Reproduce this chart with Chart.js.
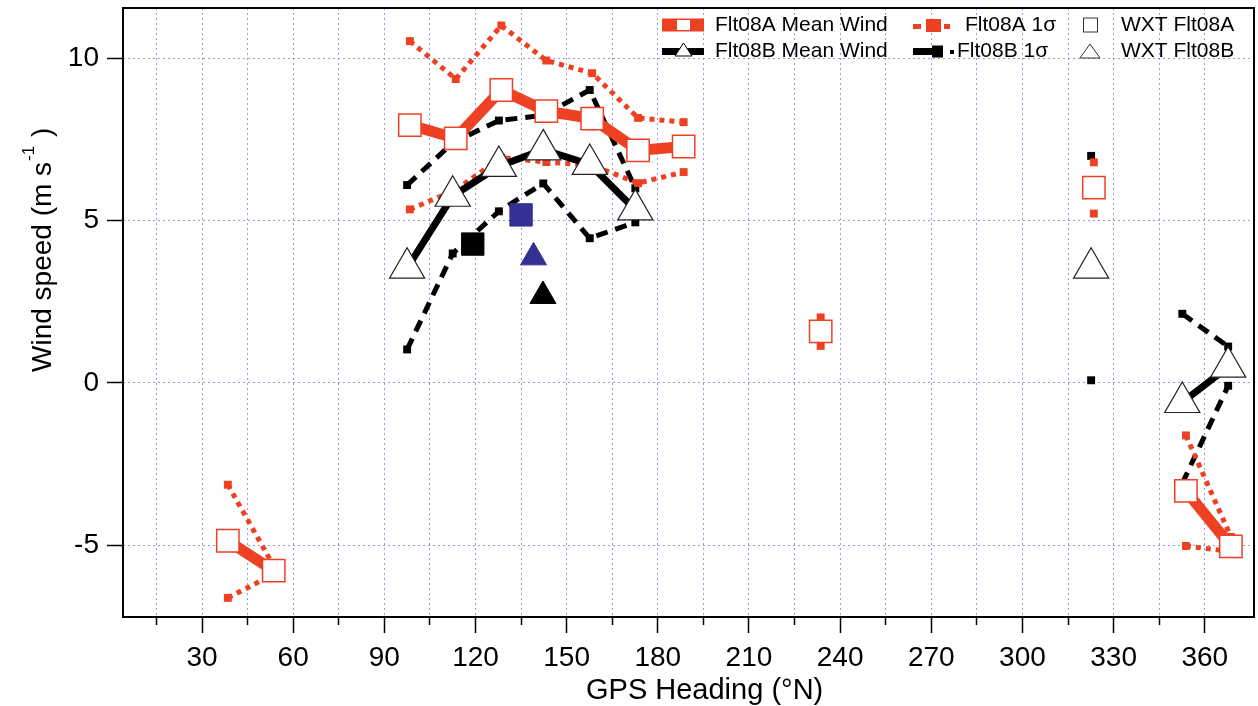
<!DOCTYPE html>
<html>
<head>
    <meta charset="utf-8">
    <title>Wind speed vs GPS heading</title>
    <script src="https://cdn.jsdelivr.net/npm/chart.js"></script>
    <style>
      * {
        margin: 0;
        padding: 0;
      }
      body {
        background: #fff;
      }
    </style>
</head>
<body>
    <canvas id="chart" width="1258" height="706"></canvas>
<script>
    // GPS heading (deg N) and wind speed (m/s), null = break in the line
    const headA = [38.5, 53.6, null, 98.4, 113.5, 128.5, 143.3, 158.4, 173.5, 188.5, null, 233.6, null, 323.5, null, 353.8, 368.6];
    const meanA = [-4.87, -5.79, null, 7.95, 7.54, 9.03, 8.38, 8.15, 7.17, 7.29, null, 1.59, null, 6.02, null, -3.33, -5.04];
    const sigHiA = [-3.14, -5.65, null, 10.54, 9.37, 11.02, 9.94, 9.55, 8.17, 8.04, null, 2.02, null, 6.80, null, -1.62, -4.75];
    const sigLoA = [-6.63, -5.90, null, 5.35, 5.95, 6.95, 6.81, 6.71, 6.16, 6.50, null, 1.14, null, 5.22, null, -5.03, -5.20];

    const headB = [97.5, 112.5, 127.7, 142.3, 157.6, 172.6, null, 322.6, null, 352.6, 367.7];
    const meanB = [3.54, 5.76, 6.68, 7.19, 6.74, 5.34, null, 3.54, null, -0.60, 0.49];
    const sigHiB = [6.10, 7.40, 8.09, 8.25, 9.03, 6.00, null, 7.00, null, 2.13, 1.12];
    const sigLoB = [1.03, 3.99, 5.29, 6.15, 4.46, 4.95, null, 0.08, null, -3.10, -0.09];

    // WXT station values
    const wxtHeadA = [119.1, 135.0];
    const wxtA = [4.28, 5.18];
    const wxtHeadB = [139.1, 142.2];
    const wxtB = [3.87, 2.68];

    // axis ticks
    const headingTicks = [15, 30, 45, 60, 75, 90, 105, 120, 135, 150, 165, 180, 195, 210, 225, 240, 255, 270, 285, 300, 315, 330, 345, 360];
    const speedTicks = [-5, 0, 5, 10];

    const RED = '#ee4124';
    const BLUE = '#353192';
    const GRID = 'rgba(110, 110, 215, 0.7)';

    Chart.defaults.font.family = '"Liberation Sans", Arial, sans-serif';
    Chart.defaults.color = '#000';

    function pts(xs, ys) {
        return xs.map((x, i) => ({x: x, y: ys[i]}));
    }

    // 1 sigma envelopes
    function sigmaSet(label, xs, ys, color, dash) {
        return {
            label: label,
            data: pts(xs, ys),
            borderColor: color,
            borderWidth: 5,
            borderDash: dash,
            borderCapStyle: 'butt',
            pointStyle: 'rect',
            pointRadius: 5.6,
            pointBackgroundColor: color,
            pointBorderWidth: 0,
            tension: 0
        };
    }

    const datasets = [
        {
            label: 'WXT Flt08A',
            data: pts(wxtHeadA, wxtA),
            showLine: false,
            pointStyle: 'rect',
            pointRadius: 15.8,
            pointBackgroundColor: ['#000', BLUE],
            pointBorderColor: ['#000', BLUE],
            pointBorderWidth: 1
        },
        {
            label: 'WXT Flt08B',
            data: pts(wxtHeadB, wxtB),
            showLine: false,
            pointStyle: 'triangle',
            pointRadius: 15,
            pointBackgroundColor: [BLUE, '#000'],
            pointBorderColor: [BLUE, '#000'],
            pointBorderWidth: 1
        },
        {
            label: 'Flt08A Mean Wind',
            data: pts(headA, meanA),
            borderColor: RED,
            borderWidth: 11,
            borderJoinStyle: 'miter',
            pointStyle: 'rect',
            pointRadius: 15.8,
            pointBackgroundColor: '#fff',
            pointBorderColor: RED,
            pointBorderWidth: 1.5,
            tension: 0
        },
        {
            label: 'Flt08B Mean Wind',
            data: pts(headB, meanB),
            borderColor: '#000',
            borderWidth: 7,
            borderJoinStyle: 'miter',
            pointStyle: 'triangle',
            pointRadius: 20.3,
            pointBackgroundColor: '#fff',
            pointBorderColor: '#222',
            pointBorderWidth: 1.2,
            tension: 0
        },
        sigmaSet('Flt08A 1σ', headA, sigHiA, RED, [5, 5]),
        sigmaSet('Flt08A 1σ low', headA, sigLoA, RED, [5, 5]),
        sigmaSet('Flt08B 1σ', headB, sigHiB, '#000', [12, 8]),
        sigmaSet('Flt08B 1σ low', headB, sigLoB, '#000', [12, 8])
    ];

    // frame, legend box inside the plot and the y title with superscript
    const extras = {
        id: 'extras',
        afterDraw(chart) {
            const ctx = chart.ctx;
            const a = chart.chartArea;
            ctx.save();
            ctx.strokeStyle = '#000';
            ctx.lineWidth = 2;
            ctx.setLineDash([]);
            ctx.strokeRect(a.left, a.top, a.right - a.left, a.bottom - a.top);

            const r1 = 25, r2 = 51;
            // Flt08A mean
            ctx.fillStyle = RED;
            ctx.fillRect(662, r1 - 6.5, 42, 13);
            ctx.fillStyle = '#fff';
            ctx.fillRect(677, r1 - 5, 13, 10);
            // Flt08B mean
            ctx.fillStyle = '#000';
            ctx.fillRect(662, r2 - 3, 42, 7);
            ctx.beginPath();
            ctx.moveTo(683.5, r2 - 8);
            ctx.lineTo(692, r2 + 5);
            ctx.lineTo(675, r2 + 5);
            ctx.closePath();
            ctx.fillStyle = '#fff';
            ctx.fill();
            ctx.lineWidth = 1;
            ctx.strokeStyle = '#000';
            ctx.stroke();
            // Flt08A 1 sigma
            ctx.fillStyle = RED;
            ctx.fillRect(913, r1 - 1, 8, 5);
            ctx.fillRect(926, r1 - 6, 15, 13);
            ctx.fillRect(944, r1 - 1, 6, 5);
            // Flt08B 1 sigma
            ctx.fillStyle = '#000';
            ctx.fillRect(913, r2 - 3, 20, 7);
            ctx.fillRect(932, r2 - 5.5, 11, 12);
            ctx.fillRect(950, r2 - 1, 4, 4);
            // WXT markers
            ctx.strokeStyle = '#333';
            ctx.lineWidth = 1;
            ctx.strokeRect(1083.5, r1 - 7, 14, 14);
            ctx.beginPath();
            ctx.moveTo(1090, r2 - 7);
            ctx.lineTo(1100, r2 + 7);
            ctx.lineTo(1080, r2 + 7);
            ctx.closePath();
            ctx.stroke();

            ctx.fillStyle = '#000';
            ctx.font = '21px "Liberation Sans", Arial, sans-serif';
            ctx.textBaseline = 'middle';
            ctx.textAlign = 'left';
            ctx.fillText('Flt08A Mean Wind', 715, r1);
            ctx.fillText('Flt08B Mean Wind', 715, r2);
            ctx.fillText('Flt08A 1σ', 965, r1);
            ctx.fillText('Flt08B 1σ', 957, r2);
            ctx.fillText('WXT Flt08A', 1121, r1);
            ctx.fillText('WXT Flt08B', 1121, r2);

            // y axis title
            ctx.translate(51, 372);
            ctx.rotate(-Math.PI / 2);
            ctx.textBaseline = 'alphabetic';
            ctx.font = '28px "Liberation Sans", Arial, sans-serif';
            const main = 'Wind speed (m s';
            ctx.fillText(main, 0, 0);
            let w = ctx.measureText(main).width;
            ctx.font = '17px "Liberation Sans", Arial, sans-serif';
            ctx.fillText('-1', w + 1, -17);
            w += ctx.measureText('-1').width + 2;
            ctx.font = '28px "Liberation Sans", Arial, sans-serif';
            ctx.fillText(' )', w, 0);
            ctx.restore();
        }
    };

    const config = {
        type: 'line',
        data: { datasets },
        options: {
            responsive: false,
            animation: false,
            devicePixelRatio: 1,
            layout: {
                autoPadding: false,
                padding: { left: 0, top: 8, right: 4, bottom: 0 }
            },
            plugins: {
                legend: { display: false },
                tooltip: { enabled: false }
            },
            scales: {
                x: {
                    type: 'linear',
                    min: 4,
                    max: 376.2,
                    afterBuildTicks: s => { s.ticks = headingTicks.map(v => ({value: v})); },
                    afterFit: s => {
                        s.height = 89;
                        s.paddingLeft = 0;
                        s.paddingRight = 0;
                    },
                    border: { display: false, dash: [2, 3] },
                    grid: {
                        color: GRID,
                        lineWidth: 1,
                        tickLength: 16,
                        tickColor: '#000',
                        tickWidth: 1.5,
                        tickBorderDash: c => (c.tick && c.tick.value % 30 === 0) ? [] : [8, 40]
                    },
                    ticks: {
                        autoSkip: false,
                        maxRotation: 0,
                        padding: 8,
                        font: { size: 28 },
                        callback: v => v % 30 === 0 ? v : ''
                    },
                    title: {
                        display: true,
                        text: '    GPS Heading (°N)',
                        font: { size: 29, lineHeight: 1 },
                        padding: { top: 0, bottom: 1 }
                    }
                },
                y: {
                    type: 'linear',
                    min: -7.22,
                    max: 11.56,
                    afterBuildTicks: s => { s.ticks = speedTicks.map(v => ({value: v})); },
                    afterFit: s => {
                        s.width = 123;
                        s.paddingTop = 0;
                        s.paddingBottom = 0;
                    },
                    border: { display: false, dash: [2, 3] },
                    grid: {
                        color: GRID,
                        lineWidth: 1,
                        tickLength: 16,
                        tickColor: '#000',
                        tickWidth: 1.5,
                        tickBorderDash: []
                    },
                    ticks: {
                        padding: 8,
                        font: { size: 28 }
                    }
                }
            }
        },
        plugins: [extras]
    };

    const chart = new Chart(document.getElementById('chart'), config);
</script>
</body>
</html>
